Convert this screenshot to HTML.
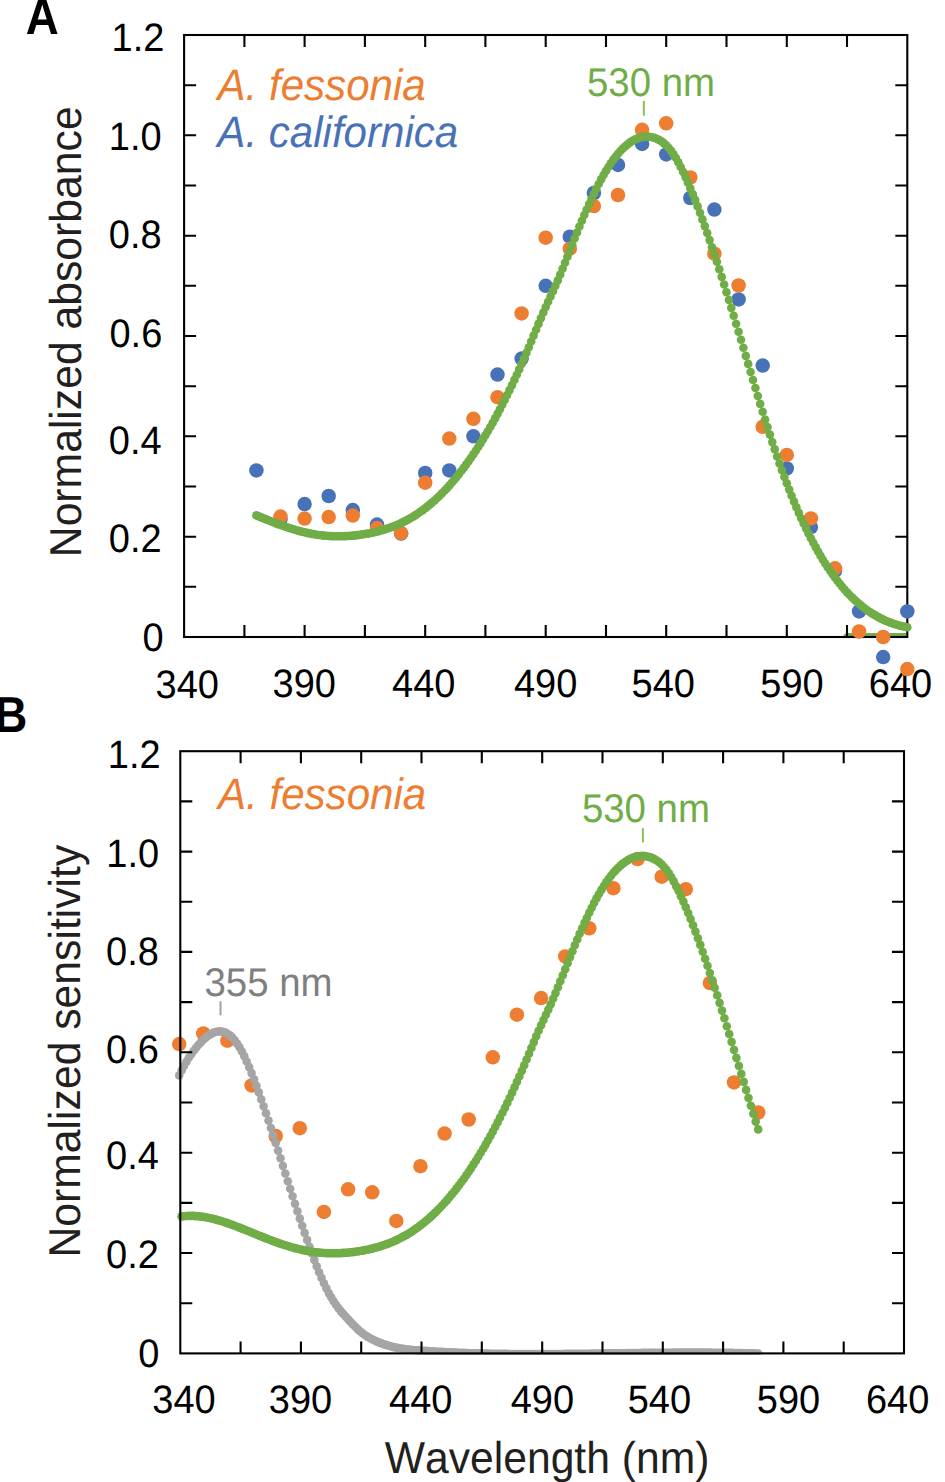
<!DOCTYPE html>
<html><head><meta charset="utf-8"><style>html,body{margin:0;padding:0;background:#fff;width:945px;height:1482px;overflow:hidden}svg{display:block}text{font-family:"Liberation Sans",sans-serif;font-kerning:none;text-rendering:geometricPrecision}</style></head><body>
<svg width="945" height="1482" viewBox="0 0 945 1482">
<rect width="945" height="1482" fill="#fff"/>
<clipPath id="ca"><rect x="0" y="0" width="906.2" height="637.5"/></clipPath>
<g clip-path="url(#ca)">
<g fill="#70AD47"><circle cx="847.5" cy="637.2" r="4.30"/><circle cx="849.9" cy="637.2" r="4.30"/><circle cx="852.3" cy="637.2" r="4.30"/><circle cx="854.7" cy="637.2" r="4.30"/><circle cx="857.2" cy="637.2" r="4.30"/><circle cx="859.6" cy="637.2" r="4.30"/><circle cx="862.0" cy="637.2" r="4.30"/><circle cx="864.4" cy="637.2" r="4.30"/><circle cx="866.8" cy="637.2" r="4.30"/><circle cx="869.2" cy="637.2" r="4.30"/><circle cx="871.6" cy="637.2" r="4.30"/><circle cx="874.0" cy="637.2" r="4.30"/><circle cx="876.4" cy="637.2" r="4.30"/><circle cx="878.9" cy="637.2" r="4.30"/><circle cx="881.3" cy="637.2" r="4.30"/><circle cx="883.7" cy="637.2" r="4.30"/><circle cx="886.1" cy="637.2" r="4.30"/><circle cx="888.5" cy="637.2" r="4.30"/><circle cx="890.9" cy="637.2" r="4.30"/><circle cx="893.3" cy="637.2" r="4.30"/><circle cx="895.7" cy="637.2" r="4.30"/><circle cx="898.1" cy="637.2" r="4.30"/><circle cx="900.6" cy="637.2" r="4.30"/><circle cx="903.0" cy="637.2" r="4.30"/><circle cx="905.4" cy="637.2" r="4.30"/></g>
</g>
<path d="M244.4 637.0V625.0M244.4 35.0V47.0M304.6 637.0V625.0M304.6 35.0V47.0M364.9 637.0V625.0M364.9 35.0V47.0M425.2 637.0V625.0M425.2 35.0V47.0M485.4 637.0V625.0M485.4 35.0V47.0M545.7 637.0V625.0M545.7 35.0V47.0M606.0 637.0V625.0M606.0 35.0V47.0M666.2 637.0V625.0M666.2 35.0V47.0M726.5 637.0V625.0M726.5 35.0V47.0M786.8 637.0V625.0M786.8 35.0V47.0M847.0 637.0V625.0M847.0 35.0V47.0M184.1 586.8H196.1M907.3 586.8H895.3M184.1 536.7H196.1M907.3 536.7H895.3M184.1 486.5H196.1M907.3 486.5H895.3M184.1 436.3H196.1M907.3 436.3H895.3M184.1 386.2H196.1M907.3 386.2H895.3M184.1 336.0H196.1M907.3 336.0H895.3M184.1 285.8H196.1M907.3 285.8H895.3M184.1 235.7H196.1M907.3 235.7H895.3M184.1 185.5H196.1M907.3 185.5H895.3M184.1 135.3H196.1M907.3 135.3H895.3M184.1 85.2H196.1M907.3 85.2H895.3" stroke="#000" stroke-width="2.1" fill="none"/>
<rect x="184.1" y="35.0" width="723.2" height="602.0" stroke="#000" stroke-width="2.1" fill="none"/>
<text transform="translate(164.40 50.55) scale(1 1.045)" font-size="38" fill="#000" text-anchor="end">1.2</text>
<text transform="translate(161.70 150.35) scale(1 1.045)" font-size="38" fill="#000" text-anchor="end">1.0</text>
<text transform="translate(161.70 247.85) scale(1 1.045)" font-size="38" fill="#000" text-anchor="end">0.8</text>
<text transform="translate(162.30 347.20) scale(1 1.045)" font-size="38" fill="#000" text-anchor="end">0.6</text>
<text transform="translate(161.70 453.60) scale(1 1.045)" font-size="38" fill="#000" text-anchor="end">0.4</text>
<text transform="translate(161.70 551.80) scale(1 1.045)" font-size="38" fill="#000" text-anchor="end">0.2</text>
<text transform="translate(163.60 650.85) scale(1 1.045)" font-size="38" fill="#000" text-anchor="end">0</text>
<text transform="translate(187.30 697.50) scale(1 1.045)" font-size="38" fill="#000" text-anchor="middle">340</text>
<text transform="translate(304.20 697.40) scale(1 1.045)" font-size="38" fill="#000" text-anchor="middle">390</text>
<text transform="translate(423.70 697.40) scale(1 1.045)" font-size="38" fill="#000" text-anchor="middle">440</text>
<text transform="translate(545.60 697.40) scale(1 1.045)" font-size="38" fill="#000" text-anchor="middle">490</text>
<text transform="translate(663.30 697.40) scale(1 1.045)" font-size="38" fill="#000" text-anchor="middle">540</text>
<text transform="translate(791.95 697.40) scale(1 1.045)" font-size="38" fill="#000" text-anchor="middle">590</text>
<text transform="translate(900.45 697.40) scale(1 1.045)" font-size="38" fill="#000" text-anchor="middle">640</text>
<g fill="#4872B8"><circle cx="256.4" cy="470.4" r="7.25"/><circle cx="280.5" cy="519.1" r="7.25"/><circle cx="304.6" cy="504.1" r="7.25"/><circle cx="328.7" cy="496.0" r="7.25"/><circle cx="352.8" cy="510.1" r="7.25"/><circle cx="377.0" cy="524.6" r="7.25"/><circle cx="401.1" cy="533.6" r="7.25"/><circle cx="425.2" cy="473.0" r="7.25"/><circle cx="449.3" cy="470.4" r="7.25"/><circle cx="473.4" cy="436.3" r="7.25"/><circle cx="497.5" cy="374.6" r="7.25"/><circle cx="521.6" cy="358.6" r="7.25"/><circle cx="545.7" cy="285.8" r="7.25"/><circle cx="569.8" cy="236.7" r="7.25"/><circle cx="593.9" cy="193.0" r="7.25"/><circle cx="618.0" cy="164.9" r="7.25"/><circle cx="642.1" cy="143.9" r="7.25"/><circle cx="666.2" cy="154.4" r="7.25"/><circle cx="690.3" cy="198.0" r="7.25"/><circle cx="714.4" cy="209.6" r="7.25"/><circle cx="738.6" cy="299.4" r="7.25"/><circle cx="762.7" cy="365.6" r="7.25"/><circle cx="786.8" cy="468.4" r="7.25"/><circle cx="810.9" cy="527.1" r="7.25"/><circle cx="835.0" cy="570.8" r="7.25"/><circle cx="859.1" cy="611.4" r="7.25"/><circle cx="883.2" cy="657.1" r="7.25"/><circle cx="907.3" cy="611.4" r="7.25"/></g>
<g fill="#ED7D31"><circle cx="280.5" cy="516.6" r="7.25"/><circle cx="304.6" cy="518.6" r="7.25"/><circle cx="328.7" cy="517.1" r="7.25"/><circle cx="352.8" cy="515.6" r="7.25"/><circle cx="377.0" cy="528.1" r="7.25"/><circle cx="401.1" cy="533.2" r="7.25"/><circle cx="425.2" cy="482.7" r="7.25"/><circle cx="449.3" cy="438.6" r="7.25"/><circle cx="473.4" cy="418.8" r="7.25"/><circle cx="497.5" cy="397.2" r="7.25"/><circle cx="521.6" cy="313.4" r="7.25"/><circle cx="545.7" cy="237.7" r="7.25"/><circle cx="569.8" cy="248.7" r="7.25"/><circle cx="593.9" cy="206.1" r="7.25"/><circle cx="618.0" cy="195.0" r="7.25"/><circle cx="642.1" cy="129.8" r="7.25"/><circle cx="666.2" cy="123.3" r="7.25"/><circle cx="690.3" cy="177.5" r="7.25"/><circle cx="714.4" cy="253.7" r="7.25"/><circle cx="738.6" cy="285.5" r="7.25"/><circle cx="762.7" cy="426.8" r="7.25"/><circle cx="786.8" cy="454.9" r="7.25"/><circle cx="810.9" cy="518.4" r="7.25"/><circle cx="835.0" cy="568.3" r="7.25"/><circle cx="859.1" cy="631.5" r="7.25"/><circle cx="883.2" cy="637.0" r="7.25"/><circle cx="907.3" cy="669.1" r="7.25"/></g>
<g fill="#70AD47"><circle cx="256.4" cy="515.4" r="4.30"/><circle cx="258.8" cy="516.4" r="4.30"/><circle cx="261.2" cy="517.4" r="4.30"/><circle cx="263.7" cy="518.4" r="4.30"/><circle cx="266.1" cy="519.4" r="4.30"/><circle cx="268.5" cy="520.3" r="4.30"/><circle cx="270.9" cy="521.3" r="4.30"/><circle cx="273.3" cy="522.2" r="4.30"/><circle cx="275.7" cy="523.2" r="4.30"/><circle cx="278.1" cy="524.1" r="4.30"/><circle cx="280.5" cy="525.0" r="4.30"/><circle cx="282.9" cy="525.8" r="4.30"/><circle cx="285.3" cy="526.7" r="4.30"/><circle cx="287.8" cy="527.5" r="4.30"/><circle cx="290.2" cy="528.3" r="4.30"/><circle cx="292.6" cy="529.0" r="4.30"/><circle cx="295.0" cy="529.8" r="4.30"/><circle cx="297.4" cy="530.5" r="4.30"/><circle cx="299.8" cy="531.1" r="4.30"/><circle cx="302.2" cy="531.7" r="4.30"/><circle cx="304.6" cy="532.3" r="4.30"/><circle cx="307.0" cy="532.9" r="4.30"/><circle cx="309.5" cy="533.4" r="4.30"/><circle cx="311.9" cy="533.9" r="4.30"/><circle cx="314.3" cy="534.3" r="4.30"/><circle cx="316.7" cy="534.7" r="4.30"/><circle cx="319.1" cy="535.0" r="4.30"/><circle cx="321.5" cy="535.3" r="4.30"/><circle cx="323.9" cy="535.6" r="4.30"/><circle cx="326.3" cy="535.8" r="4.30"/><circle cx="328.7" cy="536.0" r="4.30"/><circle cx="331.2" cy="536.1" r="4.30"/><circle cx="333.6" cy="536.2" r="4.30"/><circle cx="336.0" cy="536.3" r="4.30"/><circle cx="338.4" cy="536.3" r="4.30"/><circle cx="340.8" cy="536.3" r="4.30"/><circle cx="343.2" cy="536.2" r="4.30"/><circle cx="345.6" cy="536.1" r="4.30"/><circle cx="348.0" cy="536.0" r="4.30"/><circle cx="350.4" cy="535.8" r="4.30"/><circle cx="352.8" cy="535.6" r="4.30"/><circle cx="355.3" cy="535.4" r="4.30"/><circle cx="357.7" cy="535.1" r="4.30"/><circle cx="360.1" cy="534.8" r="4.30"/><circle cx="362.5" cy="534.4" r="4.30"/><circle cx="364.9" cy="534.0" r="4.30"/><circle cx="367.3" cy="533.6" r="4.30"/><circle cx="369.7" cy="533.2" r="4.30"/><circle cx="372.1" cy="532.7" r="4.30"/><circle cx="374.5" cy="532.1" r="4.30"/><circle cx="377.0" cy="531.6" r="4.30"/><circle cx="379.4" cy="530.9" r="4.30"/><circle cx="381.8" cy="530.3" r="4.30"/><circle cx="384.2" cy="529.6" r="4.30"/><circle cx="386.6" cy="528.8" r="4.30"/><circle cx="389.0" cy="528.0" r="4.30"/><circle cx="391.4" cy="527.1" r="4.30"/><circle cx="393.8" cy="526.2" r="4.30"/><circle cx="396.2" cy="525.2" r="4.30"/><circle cx="398.6" cy="524.2" r="4.30"/><circle cx="401.1" cy="523.1" r="4.30"/><circle cx="403.5" cy="521.9" r="4.30"/><circle cx="405.9" cy="520.7" r="4.30"/><circle cx="408.3" cy="519.4" r="4.30"/><circle cx="410.7" cy="518.0" r="4.30"/><circle cx="413.1" cy="516.6" r="4.30"/><circle cx="415.5" cy="515.1" r="4.30"/><circle cx="417.9" cy="513.5" r="4.30"/><circle cx="420.3" cy="511.8" r="4.30"/><circle cx="422.8" cy="510.1" r="4.30"/><circle cx="425.2" cy="508.3" r="4.30"/><circle cx="427.6" cy="506.4" r="4.30"/><circle cx="430.0" cy="504.4" r="4.30"/><circle cx="432.4" cy="502.3" r="4.30"/><circle cx="434.8" cy="500.2" r="4.30"/><circle cx="437.2" cy="498.0" r="4.30"/><circle cx="439.6" cy="495.7" r="4.30"/><circle cx="442.0" cy="493.3" r="4.30"/><circle cx="444.5" cy="490.8" r="4.30"/><circle cx="446.9" cy="488.2" r="4.30"/><circle cx="449.3" cy="485.6" r="4.30"/><circle cx="451.7" cy="482.8" r="4.30"/><circle cx="454.1" cy="480.0" r="4.30"/><circle cx="456.5" cy="477.1" r="4.30"/><circle cx="458.9" cy="474.1" r="4.30"/><circle cx="461.3" cy="471.0" r="4.30"/><circle cx="463.7" cy="467.9" r="4.30"/><circle cx="466.1" cy="464.6" r="4.30"/><circle cx="468.6" cy="461.3" r="4.30"/><circle cx="471.0" cy="457.8" r="4.30"/><circle cx="473.4" cy="454.3" r="4.30"/><circle cx="475.8" cy="450.7" r="4.30"/><circle cx="478.2" cy="447.0" r="4.30"/><circle cx="480.6" cy="443.2" r="4.30"/><circle cx="483.0" cy="439.3" r="4.30"/><circle cx="485.4" cy="435.3" r="4.30"/><circle cx="487.8" cy="431.2" r="4.30"/><circle cx="490.3" cy="427.0" r="4.30"/><circle cx="492.7" cy="422.7" r="4.30"/><circle cx="495.1" cy="418.4" r="4.30"/><circle cx="497.5" cy="413.9" r="4.30"/><circle cx="499.9" cy="409.3" r="4.30"/><circle cx="502.3" cy="404.7" r="4.30"/><circle cx="504.7" cy="399.9" r="4.30"/><circle cx="507.1" cy="395.1" r="4.30"/><circle cx="509.5" cy="390.1" r="4.30"/><circle cx="512.0" cy="385.1" r="4.30"/><circle cx="514.4" cy="379.9" r="4.30"/><circle cx="516.8" cy="374.7" r="4.30"/><circle cx="519.2" cy="369.4" r="4.30"/><circle cx="521.6" cy="364.0" r="4.30"/><circle cx="524.0" cy="358.5" r="4.30"/><circle cx="526.4" cy="352.9" r="4.30"/><circle cx="528.8" cy="347.2" r="4.30"/><circle cx="531.2" cy="341.5" r="4.30"/><circle cx="533.6" cy="335.6" r="4.30"/><circle cx="536.1" cy="329.7" r="4.30"/><circle cx="538.5" cy="323.9" r="4.30"/><circle cx="540.9" cy="318.1" r="4.30"/><circle cx="543.3" cy="312.5" r="4.30"/><circle cx="545.7" cy="307.0" r="4.30"/><circle cx="548.1" cy="301.7" r="4.30"/><circle cx="550.5" cy="296.5" r="4.30"/><circle cx="552.9" cy="291.2" r="4.30"/><circle cx="555.3" cy="285.9" r="4.30"/><circle cx="557.8" cy="280.4" r="4.30"/><circle cx="560.2" cy="274.6" r="4.30"/><circle cx="562.6" cy="268.8" r="4.30"/><circle cx="565.0" cy="262.8" r="4.30"/><circle cx="567.4" cy="256.7" r="4.30"/><circle cx="569.8" cy="250.6" r="4.30"/><circle cx="572.2" cy="244.5" r="4.30"/><circle cx="574.6" cy="238.5" r="4.30"/><circle cx="577.0" cy="232.5" r="4.30"/><circle cx="579.4" cy="226.5" r="4.30"/><circle cx="581.9" cy="220.7" r="4.30"/><circle cx="584.3" cy="215.0" r="4.30"/><circle cx="586.7" cy="209.5" r="4.30"/><circle cx="589.1" cy="204.0" r="4.30"/><circle cx="591.5" cy="198.8" r="4.30"/><circle cx="593.9" cy="193.7" r="4.30"/><circle cx="596.3" cy="188.7" r="4.30"/><circle cx="598.7" cy="184.0" r="4.30"/><circle cx="601.1" cy="179.4" r="4.30"/><circle cx="603.6" cy="175.0" r="4.30"/><circle cx="606.0" cy="170.9" r="4.30"/><circle cx="608.4" cy="167.0" r="4.30"/><circle cx="610.8" cy="163.3" r="4.30"/><circle cx="613.2" cy="159.9" r="4.30"/><circle cx="615.6" cy="156.7" r="4.30"/><circle cx="618.0" cy="153.7" r="4.30"/><circle cx="620.4" cy="151.0" r="4.30"/><circle cx="622.8" cy="148.5" r="4.30"/><circle cx="625.3" cy="146.2" r="4.30"/><circle cx="627.7" cy="144.2" r="4.30"/><circle cx="630.1" cy="142.4" r="4.30"/><circle cx="632.5" cy="140.9" r="4.30"/><circle cx="634.9" cy="139.6" r="4.30"/><circle cx="637.3" cy="138.6" r="4.30"/><circle cx="639.7" cy="137.7" r="4.30"/><circle cx="642.1" cy="137.2" r="4.30"/><circle cx="644.5" cy="136.8" r="4.30"/><circle cx="646.9" cy="136.7" r="4.30"/><circle cx="649.4" cy="136.8" r="4.30"/><circle cx="651.8" cy="137.2" r="4.30"/><circle cx="654.2" cy="137.8" r="4.30"/><circle cx="656.6" cy="138.7" r="4.30"/><circle cx="659.0" cy="139.9" r="4.30"/><circle cx="661.4" cy="141.3" r="4.30"/><circle cx="663.8" cy="143.1" r="4.30"/><circle cx="666.2" cy="145.3" r="4.30"/><circle cx="668.6" cy="147.8" r="4.30"/><circle cx="671.1" cy="150.8" r="4.30"/><circle cx="673.5" cy="154.2" r="4.30"/><circle cx="675.9" cy="158.0" r="4.30"/><circle cx="678.3" cy="162.3" r="4.30"/><circle cx="680.7" cy="167.0" r="4.30"/><circle cx="683.1" cy="171.9" r="4.30"/><circle cx="685.5" cy="177.1" r="4.30"/><circle cx="687.9" cy="182.6" r="4.30"/><circle cx="690.3" cy="188.2" r="4.30"/><circle cx="692.8" cy="194.1" r="4.30"/><circle cx="695.2" cy="200.1" r="4.30"/><circle cx="697.6" cy="206.4" r="4.30"/><circle cx="700.0" cy="212.8" r="4.30"/><circle cx="702.4" cy="219.4" r="4.30"/><circle cx="704.8" cy="226.1" r="4.30"/><circle cx="707.2" cy="233.0" r="4.30"/><circle cx="709.6" cy="240.1" r="4.30"/><circle cx="712.0" cy="247.2" r="4.30"/><circle cx="714.4" cy="254.5" r="4.30"/><circle cx="716.9" cy="261.8" r="4.30"/><circle cx="719.3" cy="269.3" r="4.30"/><circle cx="721.7" cy="276.9" r="4.30"/><circle cx="724.1" cy="284.5" r="4.30"/><circle cx="726.5" cy="292.2" r="4.30"/><circle cx="728.9" cy="300.0" r="4.30"/><circle cx="731.3" cy="307.9" r="4.30"/><circle cx="733.7" cy="315.8" r="4.30"/><circle cx="736.1" cy="323.8" r="4.30"/><circle cx="738.6" cy="331.8" r="4.30"/><circle cx="741.0" cy="339.8" r="4.30"/><circle cx="743.4" cy="347.8" r="4.30"/><circle cx="745.8" cy="355.9" r="4.30"/><circle cx="748.2" cy="363.9" r="4.30"/><circle cx="750.6" cy="372.0" r="4.30"/><circle cx="753.0" cy="380.0" r="4.30"/><circle cx="755.4" cy="388.0" r="4.30"/><circle cx="757.8" cy="396.0" r="4.30"/><circle cx="760.2" cy="403.9" r="4.30"/><circle cx="762.7" cy="411.7" r="4.30"/><circle cx="765.1" cy="419.5" r="4.30"/><circle cx="767.5" cy="427.1" r="4.30"/><circle cx="769.9" cy="434.6" r="4.30"/><circle cx="772.3" cy="442.1" r="4.30"/><circle cx="774.7" cy="449.3" r="4.30"/><circle cx="777.1" cy="456.5" r="4.30"/><circle cx="779.5" cy="463.5" r="4.30"/><circle cx="781.9" cy="470.3" r="4.30"/><circle cx="784.4" cy="476.9" r="4.30"/><circle cx="786.8" cy="483.3" r="4.30"/><circle cx="789.2" cy="489.6" r="4.30"/><circle cx="791.6" cy="495.7" r="4.30"/><circle cx="794.0" cy="501.6" r="4.30"/><circle cx="796.4" cy="507.3" r="4.30"/><circle cx="798.8" cy="512.9" r="4.30"/><circle cx="801.2" cy="518.3" r="4.30"/><circle cx="803.6" cy="523.5" r="4.30"/><circle cx="806.1" cy="528.6" r="4.30"/><circle cx="808.5" cy="533.5" r="4.30"/><circle cx="810.9" cy="538.2" r="4.30"/><circle cx="813.3" cy="542.8" r="4.30"/><circle cx="815.7" cy="547.2" r="4.30"/><circle cx="818.1" cy="551.5" r="4.30"/><circle cx="820.5" cy="555.7" r="4.30"/><circle cx="822.9" cy="559.7" r="4.30"/><circle cx="825.3" cy="563.5" r="4.30"/><circle cx="827.7" cy="567.2" r="4.30"/><circle cx="830.2" cy="570.8" r="4.30"/><circle cx="832.6" cy="574.2" r="4.30"/><circle cx="835.0" cy="577.5" r="4.30"/><circle cx="837.4" cy="580.7" r="4.30"/><circle cx="839.8" cy="583.8" r="4.30"/><circle cx="842.2" cy="586.7" r="4.30"/><circle cx="844.6" cy="589.5" r="4.30"/><circle cx="847.0" cy="592.2" r="4.30"/><circle cx="849.4" cy="594.7" r="4.30"/><circle cx="851.9" cy="597.2" r="4.30"/><circle cx="854.3" cy="599.5" r="4.30"/><circle cx="856.7" cy="601.7" r="4.30"/><circle cx="859.1" cy="603.8" r="4.30"/><circle cx="861.5" cy="605.8" r="4.30"/><circle cx="863.9" cy="607.7" r="4.30"/><circle cx="866.3" cy="609.5" r="4.30"/><circle cx="868.7" cy="611.2" r="4.30"/><circle cx="871.1" cy="612.9" r="4.30"/><circle cx="873.6" cy="614.4" r="4.30"/><circle cx="876.0" cy="615.8" r="4.30"/><circle cx="878.4" cy="617.1" r="4.30"/><circle cx="880.8" cy="618.4" r="4.30"/><circle cx="883.2" cy="619.6" r="4.30"/><circle cx="885.6" cy="620.7" r="4.30"/><circle cx="888.0" cy="621.7" r="4.30"/><circle cx="890.4" cy="622.6" r="4.30"/><circle cx="892.8" cy="623.5" r="4.30"/><circle cx="895.2" cy="624.3" r="4.30"/><circle cx="897.7" cy="625.0" r="4.30"/><circle cx="900.1" cy="625.7" r="4.30"/><circle cx="902.5" cy="626.3" r="4.30"/><circle cx="904.9" cy="626.8" r="4.30"/><circle cx="907.3" cy="627.3" r="4.30"/></g>
<g fill="#ED7D31"><circle cx="179.2" cy="1044.1" r="7.25"/><circle cx="203.3" cy="1033.5" r="7.25"/><circle cx="227.4" cy="1040.7" r="7.25"/><circle cx="251.6" cy="1085.4" r="7.25"/><circle cx="275.7" cy="1136.0" r="7.25"/><circle cx="299.8" cy="1128.2" r="7.25"/><circle cx="323.9" cy="1211.9" r="7.25"/><circle cx="348.1" cy="1189.3" r="7.25"/><circle cx="372.2" cy="1192.3" r="7.25"/><circle cx="396.3" cy="1220.9" r="7.25"/><circle cx="420.4" cy="1166.2" r="7.25"/><circle cx="444.6" cy="1133.6" r="7.25"/><circle cx="468.7" cy="1119.5" r="7.25"/><circle cx="492.8" cy="1057.3" r="7.25"/><circle cx="516.9" cy="1014.7" r="7.25"/><circle cx="541.1" cy="998.1" r="7.25"/><circle cx="565.2" cy="956.4" r="7.25"/><circle cx="589.3" cy="928.3" r="7.25"/><circle cx="613.4" cy="888.2" r="7.25"/><circle cx="637.5" cy="859.1" r="7.25"/><circle cx="661.7" cy="876.7" r="7.25"/><circle cx="685.8" cy="889.2" r="7.25"/><circle cx="709.9" cy="983.0" r="7.25"/><circle cx="734.0" cy="1082.4" r="7.25"/><circle cx="758.2" cy="1112.5" r="7.25"/></g>
<clipPath id="cb"><rect x="0" y="0" width="945" height="1354.6"/></clipPath>
<g clip-path="url(#cb)">
<g fill="#A5A5A5"><circle cx="179.2" cy="1075.4" r="4.30"/><circle cx="181.6" cy="1070.5" r="4.30"/><circle cx="184.0" cy="1066.0" r="4.30"/><circle cx="186.4" cy="1061.7" r="4.30"/><circle cx="188.8" cy="1057.8" r="4.30"/><circle cx="191.3" cy="1054.2" r="4.30"/><circle cx="193.7" cy="1050.8" r="4.30"/><circle cx="196.1" cy="1047.7" r="4.30"/><circle cx="198.5" cy="1044.8" r="4.30"/><circle cx="200.9" cy="1042.2" r="4.30"/><circle cx="203.3" cy="1039.8" r="4.30"/><circle cx="205.7" cy="1037.6" r="4.30"/><circle cx="208.1" cy="1035.8" r="4.30"/><circle cx="210.6" cy="1034.2" r="4.30"/><circle cx="213.0" cy="1032.9" r="4.30"/><circle cx="215.4" cy="1032.0" r="4.30"/><circle cx="217.8" cy="1031.5" r="4.30"/><circle cx="220.2" cy="1031.4" r="4.30"/><circle cx="222.6" cy="1031.7" r="4.30"/><circle cx="225.0" cy="1032.4" r="4.30"/><circle cx="227.4" cy="1033.7" r="4.30"/><circle cx="229.9" cy="1035.4" r="4.30"/><circle cx="232.3" cy="1037.6" r="4.30"/><circle cx="234.7" cy="1040.3" r="4.30"/><circle cx="237.1" cy="1043.6" r="4.30"/><circle cx="239.5" cy="1047.3" r="4.30"/><circle cx="241.9" cy="1051.5" r="4.30"/><circle cx="244.3" cy="1056.3" r="4.30"/><circle cx="246.7" cy="1061.5" r="4.30"/><circle cx="249.2" cy="1067.1" r="4.30"/><circle cx="251.6" cy="1073.1" r="4.30"/><circle cx="254.0" cy="1079.3" r="4.30"/><circle cx="256.4" cy="1085.7" r="4.30"/><circle cx="258.8" cy="1092.4" r="4.30"/><circle cx="261.2" cy="1099.2" r="4.30"/><circle cx="263.6" cy="1106.2" r="4.30"/><circle cx="266.0" cy="1113.3" r="4.30"/><circle cx="268.5" cy="1120.6" r="4.30"/><circle cx="270.9" cy="1128.0" r="4.30"/><circle cx="273.3" cy="1135.4" r="4.30"/><circle cx="275.7" cy="1143.0" r="4.30"/><circle cx="278.1" cy="1150.6" r="4.30"/><circle cx="280.5" cy="1158.2" r="4.30"/><circle cx="282.9" cy="1165.9" r="4.30"/><circle cx="285.3" cy="1173.5" r="4.30"/><circle cx="287.8" cy="1181.2" r="4.30"/><circle cx="290.2" cy="1188.8" r="4.30"/><circle cx="292.6" cy="1196.3" r="4.30"/><circle cx="295.0" cy="1203.8" r="4.30"/><circle cx="297.4" cy="1211.2" r="4.30"/><circle cx="299.8" cy="1218.6" r="4.30"/><circle cx="302.2" cy="1225.8" r="4.30"/><circle cx="304.6" cy="1232.9" r="4.30"/><circle cx="307.1" cy="1239.9" r="4.30"/><circle cx="309.5" cy="1246.7" r="4.30"/><circle cx="311.9" cy="1253.4" r="4.30"/><circle cx="314.3" cy="1259.9" r="4.30"/><circle cx="316.7" cy="1266.2" r="4.30"/><circle cx="319.1" cy="1272.2" r="4.30"/><circle cx="321.5" cy="1277.9" r="4.30"/><circle cx="323.9" cy="1283.3" r="4.30"/><circle cx="326.4" cy="1288.4" r="4.30"/><circle cx="328.8" cy="1293.1" r="4.30"/><circle cx="331.2" cy="1297.3" r="4.30"/><circle cx="333.6" cy="1301.2" r="4.30"/><circle cx="336.0" cy="1304.8" r="4.30"/><circle cx="338.4" cy="1308.1" r="4.30"/><circle cx="340.8" cy="1311.1" r="4.30"/><circle cx="343.2" cy="1313.9" r="4.30"/><circle cx="345.7" cy="1316.6" r="4.30"/><circle cx="348.1" cy="1319.3" r="4.30"/><circle cx="350.5" cy="1321.9" r="4.30"/><circle cx="352.9" cy="1324.4" r="4.30"/><circle cx="355.3" cy="1326.8" r="4.30"/><circle cx="357.7" cy="1329.1" r="4.30"/><circle cx="360.1" cy="1331.3" r="4.30"/><circle cx="362.5" cy="1333.2" r="4.30"/><circle cx="364.9" cy="1335.0" r="4.30"/><circle cx="367.4" cy="1336.6" r="4.30"/><circle cx="369.8" cy="1338.0" r="4.30"/><circle cx="372.2" cy="1339.3" r="4.30"/><circle cx="374.6" cy="1340.5" r="4.30"/><circle cx="377.0" cy="1341.6" r="4.30"/><circle cx="379.4" cy="1342.6" r="4.30"/><circle cx="381.8" cy="1343.5" r="4.30"/><circle cx="384.2" cy="1344.4" r="4.30"/><circle cx="386.7" cy="1345.1" r="4.30"/><circle cx="389.1" cy="1345.8" r="4.30"/><circle cx="391.5" cy="1346.5" r="4.30"/><circle cx="393.9" cy="1347.1" r="4.30"/><circle cx="396.3" cy="1347.6" r="4.30"/><circle cx="398.7" cy="1348.0" r="4.30"/><circle cx="401.1" cy="1348.5" r="4.30"/><circle cx="403.5" cy="1348.8" r="4.30"/><circle cx="406.0" cy="1349.2" r="4.30"/><circle cx="408.4" cy="1349.5" r="4.30"/><circle cx="410.8" cy="1349.7" r="4.30"/><circle cx="413.2" cy="1350.0" r="4.30"/><circle cx="415.6" cy="1350.2" r="4.30"/><circle cx="418.0" cy="1350.4" r="4.30"/><circle cx="420.4" cy="1350.6" r="4.30"/><circle cx="422.8" cy="1350.7" r="4.30"/><circle cx="425.3" cy="1350.9" r="4.30"/><circle cx="427.7" cy="1351.1" r="4.30"/><circle cx="430.1" cy="1351.2" r="4.30"/><circle cx="432.5" cy="1351.4" r="4.30"/><circle cx="434.9" cy="1351.5" r="4.30"/><circle cx="437.3" cy="1351.7" r="4.30"/><circle cx="439.7" cy="1351.8" r="4.30"/><circle cx="442.1" cy="1351.9" r="4.30"/><circle cx="444.6" cy="1352.0" r="4.30"/><circle cx="447.0" cy="1352.2" r="4.30"/><circle cx="449.4" cy="1352.3" r="4.30"/><circle cx="451.8" cy="1352.4" r="4.30"/><circle cx="454.2" cy="1352.5" r="4.30"/><circle cx="456.6" cy="1352.6" r="4.30"/><circle cx="459.0" cy="1352.7" r="4.30"/><circle cx="461.4" cy="1352.8" r="4.30"/><circle cx="463.9" cy="1352.9" r="4.30"/><circle cx="466.3" cy="1353.0" r="4.30"/><circle cx="468.7" cy="1353.1" r="4.30"/><circle cx="471.1" cy="1353.2" r="4.30"/><circle cx="473.5" cy="1353.2" r="4.30"/><circle cx="475.9" cy="1353.3" r="4.30"/><circle cx="478.3" cy="1353.4" r="4.30"/><circle cx="480.7" cy="1353.4" r="4.30"/><circle cx="483.2" cy="1353.5" r="4.30"/><circle cx="485.6" cy="1353.6" r="4.30"/><circle cx="488.0" cy="1353.6" r="4.30"/><circle cx="490.4" cy="1353.7" r="4.30"/><circle cx="492.8" cy="1353.7" r="4.30"/><circle cx="495.2" cy="1353.8" r="4.30"/><circle cx="497.6" cy="1353.8" r="4.30"/><circle cx="500.0" cy="1353.8" r="4.30"/><circle cx="502.5" cy="1353.9" r="4.30"/><circle cx="504.9" cy="1353.9" r="4.30"/><circle cx="507.3" cy="1353.9" r="4.30"/><circle cx="509.7" cy="1354.0" r="4.30"/><circle cx="512.1" cy="1354.0" r="4.30"/><circle cx="514.5" cy="1354.0" r="4.30"/><circle cx="516.9" cy="1354.0" r="4.30"/><circle cx="519.3" cy="1354.0" r="4.30"/><circle cx="521.8" cy="1354.1" r="4.30"/><circle cx="524.2" cy="1354.1" r="4.30"/><circle cx="526.6" cy="1354.1" r="4.30"/><circle cx="529.0" cy="1354.1" r="4.30"/><circle cx="531.4" cy="1354.1" r="4.30"/><circle cx="533.8" cy="1354.1" r="4.30"/><circle cx="536.2" cy="1354.1" r="4.30"/><circle cx="538.6" cy="1354.1" r="4.30"/><circle cx="541.1" cy="1354.1" r="4.30"/><circle cx="543.5" cy="1354.1" r="4.30"/><circle cx="545.9" cy="1354.1" r="4.30"/><circle cx="548.3" cy="1354.1" r="4.30"/><circle cx="550.7" cy="1354.0" r="4.30"/><circle cx="553.1" cy="1354.0" r="4.30"/><circle cx="555.5" cy="1354.0" r="4.30"/><circle cx="557.9" cy="1354.0" r="4.30"/><circle cx="560.3" cy="1354.0" r="4.30"/><circle cx="562.8" cy="1354.0" r="4.30"/><circle cx="565.2" cy="1353.9" r="4.30"/><circle cx="567.6" cy="1353.9" r="4.30"/><circle cx="570.0" cy="1353.9" r="4.30"/><circle cx="572.4" cy="1353.9" r="4.30"/><circle cx="574.8" cy="1353.8" r="4.30"/><circle cx="577.2" cy="1353.8" r="4.30"/><circle cx="579.6" cy="1353.8" r="4.30"/><circle cx="582.1" cy="1353.8" r="4.30"/><circle cx="584.5" cy="1353.7" r="4.30"/><circle cx="586.9" cy="1353.7" r="4.30"/><circle cx="589.3" cy="1353.7" r="4.30"/><circle cx="591.7" cy="1353.6" r="4.30"/><circle cx="594.1" cy="1353.6" r="4.30"/><circle cx="596.5" cy="1353.6" r="4.30"/><circle cx="598.9" cy="1353.5" r="4.30"/><circle cx="601.4" cy="1353.5" r="4.30"/><circle cx="603.8" cy="1353.5" r="4.30"/><circle cx="606.2" cy="1353.4" r="4.30"/><circle cx="608.6" cy="1353.4" r="4.30"/><circle cx="611.0" cy="1353.4" r="4.30"/><circle cx="613.4" cy="1353.3" r="4.30"/><circle cx="615.8" cy="1353.3" r="4.30"/><circle cx="618.2" cy="1353.3" r="4.30"/><circle cx="620.7" cy="1353.2" r="4.30"/><circle cx="623.1" cy="1353.2" r="4.30"/><circle cx="625.5" cy="1353.2" r="4.30"/><circle cx="627.9" cy="1353.1" r="4.30"/><circle cx="630.3" cy="1353.1" r="4.30"/><circle cx="632.7" cy="1353.1" r="4.30"/><circle cx="635.1" cy="1353.0" r="4.30"/><circle cx="637.5" cy="1353.0" r="4.30"/><circle cx="640.0" cy="1353.0" r="4.30"/><circle cx="642.4" cy="1352.9" r="4.30"/><circle cx="644.8" cy="1352.9" r="4.30"/><circle cx="647.2" cy="1352.9" r="4.30"/><circle cx="649.6" cy="1352.9" r="4.30"/><circle cx="652.0" cy="1352.8" r="4.30"/><circle cx="654.4" cy="1352.8" r="4.30"/><circle cx="656.8" cy="1352.8" r="4.30"/><circle cx="659.3" cy="1352.8" r="4.30"/><circle cx="661.7" cy="1352.7" r="4.30"/><circle cx="664.1" cy="1352.7" r="4.30"/><circle cx="666.5" cy="1352.7" r="4.30"/><circle cx="668.9" cy="1352.7" r="4.30"/><circle cx="671.3" cy="1352.7" r="4.30"/><circle cx="673.7" cy="1352.6" r="4.30"/><circle cx="676.1" cy="1352.6" r="4.30"/><circle cx="678.6" cy="1352.6" r="4.30"/><circle cx="681.0" cy="1352.6" r="4.30"/><circle cx="683.4" cy="1352.6" r="4.30"/><circle cx="685.8" cy="1352.6" r="4.30"/><circle cx="688.2" cy="1352.6" r="4.30"/><circle cx="690.6" cy="1352.6" r="4.30"/><circle cx="693.0" cy="1352.6" r="4.30"/><circle cx="695.4" cy="1352.6" r="4.30"/><circle cx="697.9" cy="1352.6" r="4.30"/><circle cx="700.3" cy="1352.6" r="4.30"/><circle cx="702.7" cy="1352.6" r="4.30"/><circle cx="705.1" cy="1352.6" r="4.30"/><circle cx="707.5" cy="1352.6" r="4.30"/><circle cx="709.9" cy="1352.6" r="4.30"/><circle cx="712.3" cy="1352.7" r="4.30"/><circle cx="714.7" cy="1352.7" r="4.30"/><circle cx="717.2" cy="1352.7" r="4.30"/><circle cx="719.6" cy="1352.7" r="4.30"/><circle cx="722.0" cy="1352.8" r="4.30"/><circle cx="724.4" cy="1352.8" r="4.30"/><circle cx="726.8" cy="1352.8" r="4.30"/><circle cx="729.2" cy="1352.9" r="4.30"/><circle cx="731.6" cy="1352.9" r="4.30"/><circle cx="734.0" cy="1353.0" r="4.30"/><circle cx="736.4" cy="1353.0" r="4.30"/><circle cx="738.9" cy="1353.0" r="4.30"/><circle cx="741.3" cy="1353.1" r="4.30"/><circle cx="743.7" cy="1353.2" r="4.30"/><circle cx="746.1" cy="1353.2" r="4.30"/><circle cx="748.5" cy="1353.3" r="4.30"/><circle cx="750.9" cy="1353.4" r="4.30"/><circle cx="753.3" cy="1353.4" r="4.30"/><circle cx="755.7" cy="1353.5" r="4.30"/><circle cx="758.2" cy="1353.6" r="4.30"/></g>
<g fill="#70AD47"><circle cx="181.6" cy="1216.4" r="4.30"/><circle cx="184.0" cy="1216.2" r="4.30"/><circle cx="186.4" cy="1216.0" r="4.30"/><circle cx="188.8" cy="1215.9" r="4.30"/><circle cx="191.3" cy="1215.9" r="4.30"/><circle cx="193.7" cy="1215.9" r="4.30"/><circle cx="196.1" cy="1216.1" r="4.30"/><circle cx="198.5" cy="1216.3" r="4.30"/><circle cx="200.9" cy="1216.6" r="4.30"/><circle cx="203.3" cy="1216.9" r="4.30"/><circle cx="205.7" cy="1217.3" r="4.30"/><circle cx="208.1" cy="1217.8" r="4.30"/><circle cx="210.6" cy="1218.3" r="4.30"/><circle cx="213.0" cy="1218.8" r="4.30"/><circle cx="215.4" cy="1219.4" r="4.30"/><circle cx="217.8" cy="1220.1" r="4.30"/><circle cx="220.2" cy="1220.8" r="4.30"/><circle cx="222.6" cy="1221.5" r="4.30"/><circle cx="225.0" cy="1222.3" r="4.30"/><circle cx="227.4" cy="1223.1" r="4.30"/><circle cx="229.9" cy="1224.0" r="4.30"/><circle cx="232.3" cy="1224.9" r="4.30"/><circle cx="234.7" cy="1225.8" r="4.30"/><circle cx="237.1" cy="1226.7" r="4.30"/><circle cx="239.5" cy="1227.6" r="4.30"/><circle cx="241.9" cy="1228.6" r="4.30"/><circle cx="244.3" cy="1229.5" r="4.30"/><circle cx="246.7" cy="1230.5" r="4.30"/><circle cx="249.2" cy="1231.5" r="4.30"/><circle cx="251.6" cy="1232.5" r="4.30"/><circle cx="254.0" cy="1233.5" r="4.30"/><circle cx="256.4" cy="1234.5" r="4.30"/><circle cx="258.8" cy="1235.5" r="4.30"/><circle cx="261.2" cy="1236.4" r="4.30"/><circle cx="263.6" cy="1237.4" r="4.30"/><circle cx="266.0" cy="1238.4" r="4.30"/><circle cx="268.5" cy="1239.3" r="4.30"/><circle cx="270.9" cy="1240.2" r="4.30"/><circle cx="273.3" cy="1241.1" r="4.30"/><circle cx="275.7" cy="1242.0" r="4.30"/><circle cx="278.1" cy="1242.9" r="4.30"/><circle cx="280.5" cy="1243.7" r="4.30"/><circle cx="282.9" cy="1244.5" r="4.30"/><circle cx="285.3" cy="1245.3" r="4.30"/><circle cx="287.8" cy="1246.0" r="4.30"/><circle cx="290.2" cy="1246.8" r="4.30"/><circle cx="292.6" cy="1247.5" r="4.30"/><circle cx="295.0" cy="1248.1" r="4.30"/><circle cx="297.4" cy="1248.7" r="4.30"/><circle cx="299.8" cy="1249.3" r="4.30"/><circle cx="302.2" cy="1249.9" r="4.30"/><circle cx="304.6" cy="1250.4" r="4.30"/><circle cx="307.1" cy="1250.9" r="4.30"/><circle cx="309.5" cy="1251.3" r="4.30"/><circle cx="311.9" cy="1251.7" r="4.30"/><circle cx="314.3" cy="1252.0" r="4.30"/><circle cx="316.7" cy="1252.3" r="4.30"/><circle cx="319.1" cy="1252.6" r="4.30"/><circle cx="321.5" cy="1252.8" r="4.30"/><circle cx="323.9" cy="1253.0" r="4.30"/><circle cx="326.4" cy="1253.1" r="4.30"/><circle cx="328.8" cy="1253.2" r="4.30"/><circle cx="331.2" cy="1253.2" r="4.30"/><circle cx="333.6" cy="1253.3" r="4.30"/><circle cx="336.0" cy="1253.2" r="4.30"/><circle cx="338.4" cy="1253.2" r="4.30"/><circle cx="340.8" cy="1253.1" r="4.30"/><circle cx="343.2" cy="1252.9" r="4.30"/><circle cx="345.7" cy="1252.8" r="4.30"/><circle cx="348.1" cy="1252.6" r="4.30"/><circle cx="350.5" cy="1252.3" r="4.30"/><circle cx="352.9" cy="1252.1" r="4.30"/><circle cx="355.3" cy="1251.7" r="4.30"/><circle cx="357.7" cy="1251.4" r="4.30"/><circle cx="360.1" cy="1251.0" r="4.30"/><circle cx="362.5" cy="1250.6" r="4.30"/><circle cx="364.9" cy="1250.1" r="4.30"/><circle cx="367.4" cy="1249.7" r="4.30"/><circle cx="369.8" cy="1249.1" r="4.30"/><circle cx="372.2" cy="1248.6" r="4.30"/><circle cx="374.6" cy="1247.9" r="4.30"/><circle cx="377.0" cy="1247.3" r="4.30"/><circle cx="379.4" cy="1246.6" r="4.30"/><circle cx="381.8" cy="1245.8" r="4.30"/><circle cx="384.2" cy="1245.0" r="4.30"/><circle cx="386.7" cy="1244.1" r="4.30"/><circle cx="389.1" cy="1243.2" r="4.30"/><circle cx="391.5" cy="1242.2" r="4.30"/><circle cx="393.9" cy="1241.2" r="4.30"/><circle cx="396.3" cy="1240.1" r="4.30"/><circle cx="398.7" cy="1239.0" r="4.30"/><circle cx="401.1" cy="1237.7" r="4.30"/><circle cx="403.5" cy="1236.4" r="4.30"/><circle cx="406.0" cy="1235.1" r="4.30"/><circle cx="408.4" cy="1233.7" r="4.30"/><circle cx="410.8" cy="1232.2" r="4.30"/><circle cx="413.2" cy="1230.6" r="4.30"/><circle cx="415.6" cy="1228.9" r="4.30"/><circle cx="418.0" cy="1227.2" r="4.30"/><circle cx="420.4" cy="1225.4" r="4.30"/><circle cx="422.8" cy="1223.5" r="4.30"/><circle cx="425.3" cy="1221.5" r="4.30"/><circle cx="427.7" cy="1219.5" r="4.30"/><circle cx="430.1" cy="1217.4" r="4.30"/><circle cx="432.5" cy="1215.1" r="4.30"/><circle cx="434.9" cy="1212.9" r="4.30"/><circle cx="437.3" cy="1210.5" r="4.30"/><circle cx="439.7" cy="1208.0" r="4.30"/><circle cx="442.1" cy="1205.5" r="4.30"/><circle cx="444.6" cy="1202.8" r="4.30"/><circle cx="447.0" cy="1200.1" r="4.30"/><circle cx="449.4" cy="1197.3" r="4.30"/><circle cx="451.8" cy="1194.4" r="4.30"/><circle cx="454.2" cy="1191.5" r="4.30"/><circle cx="456.6" cy="1188.4" r="4.30"/><circle cx="459.0" cy="1185.2" r="4.30"/><circle cx="461.4" cy="1182.0" r="4.30"/><circle cx="463.9" cy="1178.7" r="4.30"/><circle cx="466.3" cy="1175.3" r="4.30"/><circle cx="468.7" cy="1171.7" r="4.30"/><circle cx="471.1" cy="1168.1" r="4.30"/><circle cx="473.5" cy="1164.4" r="4.30"/><circle cx="475.9" cy="1160.7" r="4.30"/><circle cx="478.3" cy="1156.8" r="4.30"/><circle cx="480.7" cy="1152.8" r="4.30"/><circle cx="483.2" cy="1148.8" r="4.30"/><circle cx="485.6" cy="1144.6" r="4.30"/><circle cx="488.0" cy="1140.3" r="4.30"/><circle cx="490.4" cy="1136.0" r="4.30"/><circle cx="492.8" cy="1131.6" r="4.30"/><circle cx="495.2" cy="1127.0" r="4.30"/><circle cx="497.6" cy="1122.4" r="4.30"/><circle cx="500.0" cy="1117.6" r="4.30"/><circle cx="502.5" cy="1112.8" r="4.30"/><circle cx="504.9" cy="1107.9" r="4.30"/><circle cx="507.3" cy="1102.9" r="4.30"/><circle cx="509.7" cy="1097.8" r="4.30"/><circle cx="512.1" cy="1092.6" r="4.30"/><circle cx="514.5" cy="1087.3" r="4.30"/><circle cx="516.9" cy="1081.9" r="4.30"/><circle cx="519.3" cy="1076.5" r="4.30"/><circle cx="521.8" cy="1070.9" r="4.30"/><circle cx="524.2" cy="1065.3" r="4.30"/><circle cx="526.6" cy="1059.5" r="4.30"/><circle cx="529.0" cy="1053.7" r="4.30"/><circle cx="531.4" cy="1047.9" r="4.30"/><circle cx="533.8" cy="1042.1" r="4.30"/><circle cx="536.2" cy="1036.3" r="4.30"/><circle cx="538.6" cy="1030.7" r="4.30"/><circle cx="541.1" cy="1025.3" r="4.30"/><circle cx="543.5" cy="1020.0" r="4.30"/><circle cx="545.9" cy="1014.8" r="4.30"/><circle cx="548.3" cy="1009.6" r="4.30"/><circle cx="550.7" cy="1004.3" r="4.30"/><circle cx="553.1" cy="998.8" r="4.30"/><circle cx="555.5" cy="993.1" r="4.30"/><circle cx="557.9" cy="987.3" r="4.30"/><circle cx="560.3" cy="981.3" r="4.30"/><circle cx="562.8" cy="975.3" r="4.30"/><circle cx="565.2" cy="969.2" r="4.30"/><circle cx="567.6" cy="963.2" r="4.30"/><circle cx="570.0" cy="957.1" r="4.30"/><circle cx="572.4" cy="951.2" r="4.30"/><circle cx="574.8" cy="945.3" r="4.30"/><circle cx="577.2" cy="939.5" r="4.30"/><circle cx="579.6" cy="933.8" r="4.30"/><circle cx="582.1" cy="928.3" r="4.30"/><circle cx="584.5" cy="922.9" r="4.30"/><circle cx="586.9" cy="917.7" r="4.30"/><circle cx="589.3" cy="912.6" r="4.30"/><circle cx="591.7" cy="907.7" r="4.30"/><circle cx="594.1" cy="902.9" r="4.30"/><circle cx="596.5" cy="898.4" r="4.30"/><circle cx="598.9" cy="894.0" r="4.30"/><circle cx="601.4" cy="889.9" r="4.30"/><circle cx="603.8" cy="886.0" r="4.30"/><circle cx="606.2" cy="882.4" r="4.30"/><circle cx="608.6" cy="879.0" r="4.30"/><circle cx="611.0" cy="875.8" r="4.30"/><circle cx="613.4" cy="872.8" r="4.30"/><circle cx="615.8" cy="870.1" r="4.30"/><circle cx="618.2" cy="867.7" r="4.30"/><circle cx="620.7" cy="865.4" r="4.30"/><circle cx="623.1" cy="863.4" r="4.30"/><circle cx="625.5" cy="861.7" r="4.30"/><circle cx="627.9" cy="860.1" r="4.30"/><circle cx="630.3" cy="858.8" r="4.30"/><circle cx="632.7" cy="857.8" r="4.30"/><circle cx="635.1" cy="857.0" r="4.30"/><circle cx="637.5" cy="856.4" r="4.30"/><circle cx="640.0" cy="856.0" r="4.30"/><circle cx="642.4" cy="855.9" r="4.30"/><circle cx="644.8" cy="856.1" r="4.30"/><circle cx="647.2" cy="856.5" r="4.30"/><circle cx="649.6" cy="857.1" r="4.30"/><circle cx="652.0" cy="857.9" r="4.30"/><circle cx="654.4" cy="859.1" r="4.30"/><circle cx="656.8" cy="860.5" r="4.30"/><circle cx="659.3" cy="862.3" r="4.30"/><circle cx="661.7" cy="864.5" r="4.30"/><circle cx="664.1" cy="867.0" r="4.30"/><circle cx="666.5" cy="869.9" r="4.30"/><circle cx="668.9" cy="873.3" r="4.30"/><circle cx="671.3" cy="877.2" r="4.30"/><circle cx="673.7" cy="881.4" r="4.30"/><circle cx="676.1" cy="886.1" r="4.30"/><circle cx="678.6" cy="891.0" r="4.30"/><circle cx="681.0" cy="896.2" r="4.30"/><circle cx="683.4" cy="901.6" r="4.30"/><circle cx="685.8" cy="907.2" r="4.30"/><circle cx="688.2" cy="913.0" r="4.30"/><circle cx="690.6" cy="919.0" r="4.30"/><circle cx="693.0" cy="925.2" r="4.30"/><circle cx="695.4" cy="931.6" r="4.30"/><circle cx="697.9" cy="938.2" r="4.30"/><circle cx="700.3" cy="944.9" r="4.30"/><circle cx="702.7" cy="951.7" r="4.30"/><circle cx="705.1" cy="958.7" r="4.30"/><circle cx="707.5" cy="965.8" r="4.30"/><circle cx="709.9" cy="973.0" r="4.30"/><circle cx="712.3" cy="980.4" r="4.30"/><circle cx="714.7" cy="987.8" r="4.30"/><circle cx="717.2" cy="995.3" r="4.30"/><circle cx="719.6" cy="1002.9" r="4.30"/><circle cx="722.0" cy="1010.6" r="4.30"/><circle cx="724.4" cy="1018.3" r="4.30"/><circle cx="726.8" cy="1026.2" r="4.30"/><circle cx="729.2" cy="1034.0" r="4.30"/><circle cx="731.6" cy="1041.9" r="4.30"/><circle cx="734.0" cy="1049.9" r="4.30"/><circle cx="736.4" cy="1057.9" r="4.30"/><circle cx="738.9" cy="1065.9" r="4.30"/><circle cx="741.3" cy="1073.9" r="4.30"/><circle cx="743.7" cy="1081.9" r="4.30"/><circle cx="746.1" cy="1089.9" r="4.30"/><circle cx="748.5" cy="1097.9" r="4.30"/><circle cx="750.9" cy="1105.8" r="4.30"/><circle cx="753.3" cy="1113.8" r="4.30"/><circle cx="755.7" cy="1121.6" r="4.30"/><circle cx="758.2" cy="1129.4" r="4.30"/></g>
</g>
<path d="M240.6 1353.4V1341.4M240.6 751.2V763.2M300.9 1353.4V1341.4M300.9 751.2V763.2M361.2 1353.4V1341.4M361.2 751.2V763.2M421.5 1353.4V1341.4M421.5 751.2V763.2M481.8 1353.4V1341.4M481.8 751.2V763.2M542.2 1353.4V1341.4M542.2 751.2V763.2M602.5 1353.4V1341.4M602.5 751.2V763.2M662.8 1353.4V1341.4M662.8 751.2V763.2M723.1 1353.4V1341.4M723.1 751.2V763.2M783.4 1353.4V1341.4M783.4 751.2V763.2M843.7 1353.4V1341.4M843.7 751.2V763.2M180.3 1303.2H192.3M904.0 1303.2H892.0M180.3 1253.0H192.3M904.0 1253.0H892.0M180.3 1202.9H192.3M904.0 1202.9H892.0M180.3 1152.7H192.3M904.0 1152.7H892.0M180.3 1102.5H192.3M904.0 1102.5H892.0M180.3 1052.3H192.3M904.0 1052.3H892.0M180.3 1002.1H192.3M904.0 1002.1H892.0M180.3 951.9H192.3M904.0 951.9H892.0M180.3 901.8H192.3M904.0 901.8H892.0M180.3 851.6H192.3M904.0 851.6H892.0M180.3 801.4H192.3M904.0 801.4H892.0" stroke="#000" stroke-width="2.1" fill="none"/>
<rect x="180.3" y="751.2" width="723.7" height="602.2" stroke="#000" stroke-width="2.1" fill="none"/>
<path d="M643.8 101V115.7" stroke="#8CC152" stroke-width="2"/>
<path d="M642.9 828.1V842.4" stroke="#8CC152" stroke-width="2"/>
<path d="M220.5 1001.3V1015.3" stroke="#A0A0A0" stroke-width="2"/>
<text transform="translate(160.70 767.60) scale(1 1.045)" font-size="38" fill="#000" text-anchor="end">1.2</text>
<text transform="translate(159.20 866.70) scale(1 1.045)" font-size="38" fill="#000" text-anchor="end">1.0</text>
<text transform="translate(158.90 964.80) scale(1 1.045)" font-size="38" fill="#000" text-anchor="end">0.8</text>
<text transform="translate(158.90 1062.60) scale(1 1.045)" font-size="38" fill="#000" text-anchor="end">0.6</text>
<text transform="translate(158.90 1169.20) scale(1 1.045)" font-size="38" fill="#000" text-anchor="end">0.4</text>
<text transform="translate(158.90 1268.00) scale(1 1.045)" font-size="38" fill="#000" text-anchor="end">0.2</text>
<text transform="translate(159.50 1367.15) scale(1 1.045)" font-size="38" fill="#000" text-anchor="end">0</text>
<text transform="translate(183.95 1413.30) scale(1 1.045)" font-size="38" fill="#000" text-anchor="middle">340</text>
<text transform="translate(300.50 1413.30) scale(1 1.045)" font-size="38" fill="#000" text-anchor="middle">390</text>
<text transform="translate(420.75 1413.30) scale(1 1.045)" font-size="38" fill="#000" text-anchor="middle">440</text>
<text transform="translate(542.35 1413.30) scale(1 1.045)" font-size="38" fill="#000" text-anchor="middle">490</text>
<text transform="translate(659.40 1413.30) scale(1 1.045)" font-size="38" fill="#000" text-anchor="middle">540</text>
<text transform="translate(788.45 1413.30) scale(1 1.045)" font-size="38" fill="#000" text-anchor="middle">590</text>
<text transform="translate(897.60 1413.30) scale(1 1.045)" font-size="38" fill="#000" text-anchor="middle">640</text>
<text transform="translate(217.50 99.55) scale(1 1.045)" font-size="42.1" font-style="italic" fill="#ED7D31" text-anchor="start">A. fessonia</text>
<text transform="translate(217.30 147.00) scale(1 1.045)" font-size="42.1" font-style="italic" fill="#4872B8" text-anchor="start">A. californica</text>
<text transform="translate(218.00 809.35) scale(1 1.045)" font-size="42.1" font-style="italic" fill="#ED7D31" text-anchor="start">A. fessonia</text>
<text transform="translate(587.00 96.00) scale(1 1.045)" font-size="38.4" fill="#70AD47" text-anchor="start">530 nm</text>
<text transform="translate(581.90 821.60) scale(1 1.045)" font-size="38.4" fill="#70AD47" text-anchor="start">530 nm</text>
<text transform="translate(204.50 995.50) scale(1 1.045)" font-size="38.4" fill="#7F7F7F" text-anchor="start">355 nm</text>
<text transform="translate(384.75 1472.70) scale(1 1.045)" font-size="42.65" fill="#231F20" text-anchor="start">Wavelength (nm)</text>
<text transform="translate(80.75 557.20) rotate(-90) scale(1 1.045)" font-size="42.7" fill="#231F20" text-anchor="start">Normalized absorbance</text>
<text transform="translate(80.40 1257.50) rotate(-90) scale(1 1.045)" font-size="42.7" fill="#231F20" text-anchor="start">Normalized sensitivity</text>
<text transform="translate(25.80 34.40) scale(0.897 1)" font-size="50.9" font-weight="bold" fill="#000" text-anchor="start">A</text>
<text transform="translate(-5.60 732.20) scale(0.897 1)" font-size="50.6" font-weight="bold" fill="#000" text-anchor="start">B</text>
</svg>
</body></html>
